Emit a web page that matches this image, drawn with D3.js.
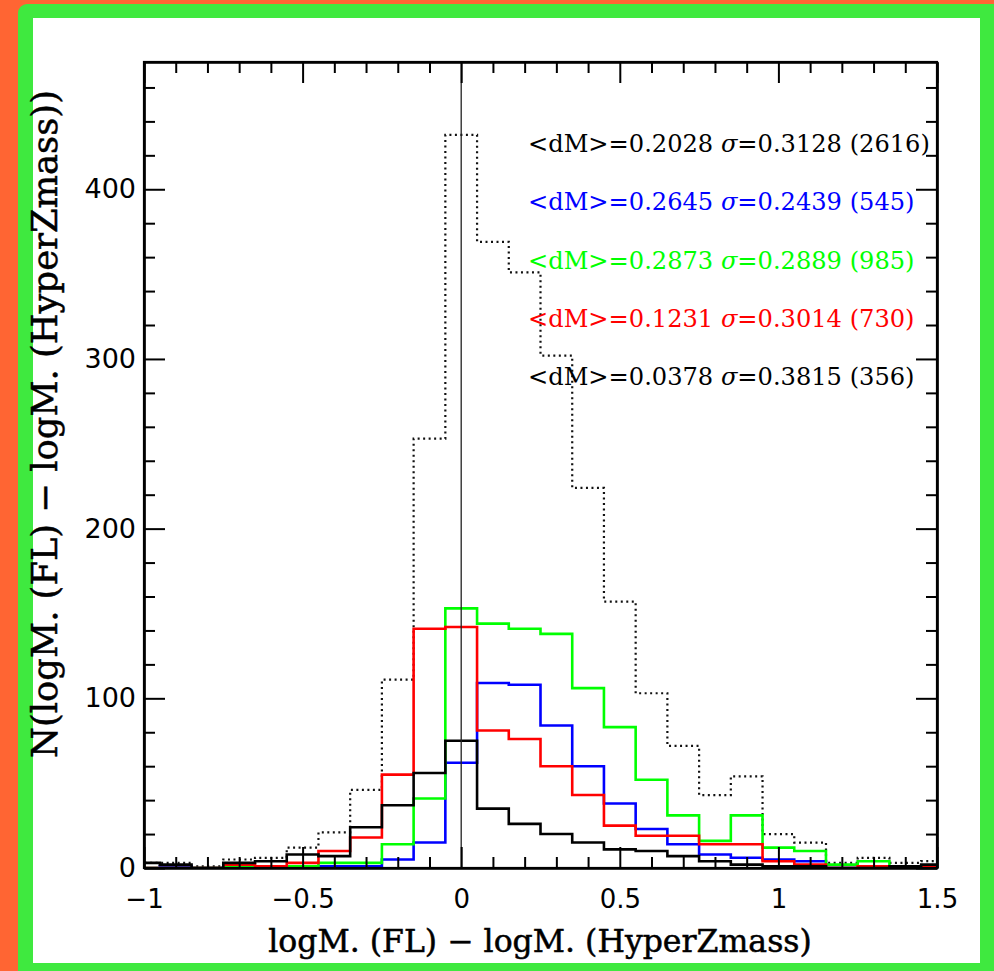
<!DOCTYPE html>
<html><head><meta charset="utf-8">
<script src="https://cdn.jsdelivr.net/npm/d3@7/dist/d3.min.js"></script>
<style>body{margin:0;background:#fff}svg{display:block}</style>
</head><body>
<svg id="chart" width="994" height="971"></svg>
<script>
// ---- data ----
const binCenters = [-1.0,-0.9,-0.8,-0.7,-0.6,-0.5,-0.4,-0.3,-0.2,-0.1,0.0,0.1,0.2,0.3,0.4,0.5,0.6,0.7,0.8,0.9,1.0,1.1,1.2,1.3,1.4,1.5];
const allCounts   = [3,3,1,5,6,12,21,46,111,253,432,369,351,302,224,157,103,72,43,54,20,15,3,6,3,4];
const blueCounts  = [0,1,0,0,0,0,1,1,5,15,62,109,108,84,60,38,23,14,8,6,5,4,0,0,0,0];
const greenCounts = [0,0,0,1,1,1,3,3,14,41,153,144,141,138,106,83,52,31,16,31,12,10,2,4,0,0];
const redCounts   = [0,0,0,2,1,3,10,18,55,141,142,81,76,60,43,25,19,19,14,14,4,2,0,1,0,1];
const blackCounts = [3,2,0,3,4,8,7,24,37,56,75,35,26,20,15,11,10,7,4,2,1,1,0,0,1,2];
const binWidth = 0.1;

const xTickValues = [-1,-0.5,0,0.5,1,1.5];
const xTickLabels = ["\u22121","\u22120.5","0","0.5","1","1.5"];
const yTickValues = [0,100,200,300,400];
const yTickLabels = ["0","100","200","300","400"];

const statMeans  = ["0.2028","0.2645","0.2873","0.1231","0.0378"];
const statSigmas = ["0.3128","0.2439","0.2889","0.3014","0.3815"];
const statCounts = ["2616","545","985","730","356"];

const xTitle = "logM. (FL) \u2212 logM. (HyperZmass)";
const yTitle = "N(logM. (FL) \u2212 logM. (HyperZmass))";

// ---- styles ----
const statColors = ["#000000","#0000ff","#00ff00","#ff0000","#000000"];
const serif = "'DejaVu Serif', 'Liberation Serif', serif";
const sans = "'DejaVu Sans', 'Liberation Sans', sans-serif";

const svg = d3.select("#chart");

// frame
svg.append("rect").attr("x",0).attr("y",0).attr("width",994).attr("height",971).attr("fill","#ff6533");
svg.append("rect").attr("x",18).attr("y",4).attr("width",990).attr("height",980).attr("rx",9).attr("fill","#3fe93f");
svg.append("rect").attr("x",33).attr("y",18).attr("width",947).attr("height",945).attr("fill","#ffffff");

const L=144, R=937, T=62, B=868;
const x = d3.scaleLinear().domain([-1,1.5]).range([L,R]);
const y = d3.scaleLinear().domain([0,475]).range([B,T]);

svg.append("clipPath").attr("id","plotclip").append("rect")
  .attr("x",L).attr("y",T).attr("width",R-L).attr("height",B-T);

const plot = svg.append("g").attr("clip-path","url(#plotclip)");

function stepPoints(counts){
  const pts = binCenters.map((c,i)=>[c-binWidth/2, counts[i]]);
  pts.push([binCenters[binCenters.length-1]+binWidth/2, counts[counts.length-1]]);
  return pts;
}
const line = d3.line().x(d=>x(d[0])).y(d=>y(d[1])).curve(d3.curveStepAfter);

plot.append("path").attr("d",line(stepPoints(allCounts)))
  .attr("fill","none").attr("stroke","#111").attr("stroke-width",2.2)
  .attr("stroke-dasharray","2,3.5");

const solidSeries = [[blueCounts,"#0000ff"],[greenCounts,"#00ff00"],[redCounts,"#ff0000"],[blackCounts,"#000000"]];
solidSeries.forEach(([cts,col])=>{
  plot.append("path").attr("d",line(stepPoints(cts)))
    .attr("fill","none").attr("stroke",col).attr("stroke-width",2.6)
    .attr("stroke-linejoin","miter");
});

// zero line
svg.append("line").attr("x1",x(0)).attr("x2",x(0)).attr("y1",T).attr("y2",B)
  .attr("stroke","#222").attr("stroke-width",1.3);

// axes
const xMinor = d3.range(-10,16).map(v=>v/10).filter(v=>Math.abs(v*2-Math.round(v*2))>1e-6);
const yMinor = d3.range(0,475,20).filter(v=>v%100!==0);

function styleAxis(g){
  g.selectAll("path.domain").attr("stroke","#000").attr("stroke-width",2.2);
  g.selectAll(".tick line").attr("stroke","#000").attr("stroke-width",2);
}

const axB = svg.append("g").attr("transform",`translate(0,${B})`)
  .call(d3.axisBottom(x).tickValues(xTickValues).tickSize(-21).tickSizeOuter(0).tickPadding(22)
        .tickFormat((d,i)=>xTickLabels[i]));
axB.call(styleAxis);
axB.selectAll("text").attr("font-family",sans).attr("font-size",26).attr("fill","#000");
svg.append("g").attr("transform",`translate(0,${B})`)
  .call(d3.axisBottom(x).tickValues(xMinor).tickSize(-11).tickSizeOuter(0).tickFormat(""))
  .call(styleAxis);

const axT = svg.append("g").attr("transform",`translate(0,${T})`)
  .call(d3.axisTop(x).tickValues(xTickValues).tickSize(-21).tickSizeOuter(0).tickFormat(""));
axT.call(styleAxis);
svg.append("g").attr("transform",`translate(0,${T})`)
  .call(d3.axisTop(x).tickValues(xMinor).tickSize(-11).tickSizeOuter(0).tickFormat(""))
  .call(styleAxis);

const axL = svg.append("g").attr("transform",`translate(${L},0)`)
  .call(d3.axisLeft(y).tickValues(yTickValues).tickSize(-21).tickSizeOuter(0).tickPadding(8)
        .tickFormat((d,i)=>yTickLabels[i]));
axL.call(styleAxis);
axL.selectAll("text").attr("font-family",sans).attr("font-size",27).attr("fill","#000");
svg.append("g").attr("transform",`translate(${L},0)`)
  .call(d3.axisLeft(y).tickValues(yMinor).tickSize(-11).tickSizeOuter(0).tickFormat(""))
  .call(styleAxis);

const axR = svg.append("g").attr("transform",`translate(${R},0)`)
  .call(d3.axisRight(y).tickValues(yTickValues).tickSize(-21).tickSizeOuter(0).tickFormat(""));
axR.call(styleAxis);
svg.append("g").attr("transform",`translate(${R},0)`)
  .call(d3.axisRight(y).tickValues(yMinor).tickSize(-11).tickSizeOuter(0).tickFormat(""))
  .call(styleAxis);

// full frame
svg.append("rect").attr("x",L).attr("y",T).attr("width",R-L).attr("height",B-T)
  .attr("fill","none").attr("stroke","#000").attr("stroke-width",2.2);

function fitFont(sel, base, target){
  sel.attr("font-size",base);
  const w = sel.node().getComputedTextLength();
  const fs = base*target/w;
  sel.attr("font-size",fs);
  return fs;
}

// titles
const xt = svg.append("text").attr("x",(268+812)/2).attr("y",952)
  .attr("text-anchor","middle").attr("font-family",serif)
  .attr("fill","#000").attr("stroke","#000").attr("stroke-width",0.5).text(xTitle);
fitFont(xt,26,544);

const yt = svg.append("text").attr("transform",`translate(57,424) rotate(-90)`)
  .attr("text-anchor","middle").attr("font-family",serif)
  .attr("fill","#000").attr("stroke","#000").attr("stroke-width",0.5).text(yTitle);
fitFont(yt,26,668);

// stats text
const statBase = [151.5,210,268.5,327,385];
let statFs = null;
statMeans.forEach((m,i)=>{
  const t = svg.append("text").attr("x",528).attr("y",statBase[i])
    .attr("font-family",serif).attr("fill",statColors[i]);
  t.append("tspan").text(`<dM>=${m} `);
  t.append("tspan").attr("font-style","italic").text("\u03C3");
  t.append("tspan").text(`=${statSigmas[i]} (${statCounts[i]})`);
  if(i===0){ statFs = fitFont(t,22,402); } else { t.attr("font-size",statFs); }
});
</script>
</body></html>
